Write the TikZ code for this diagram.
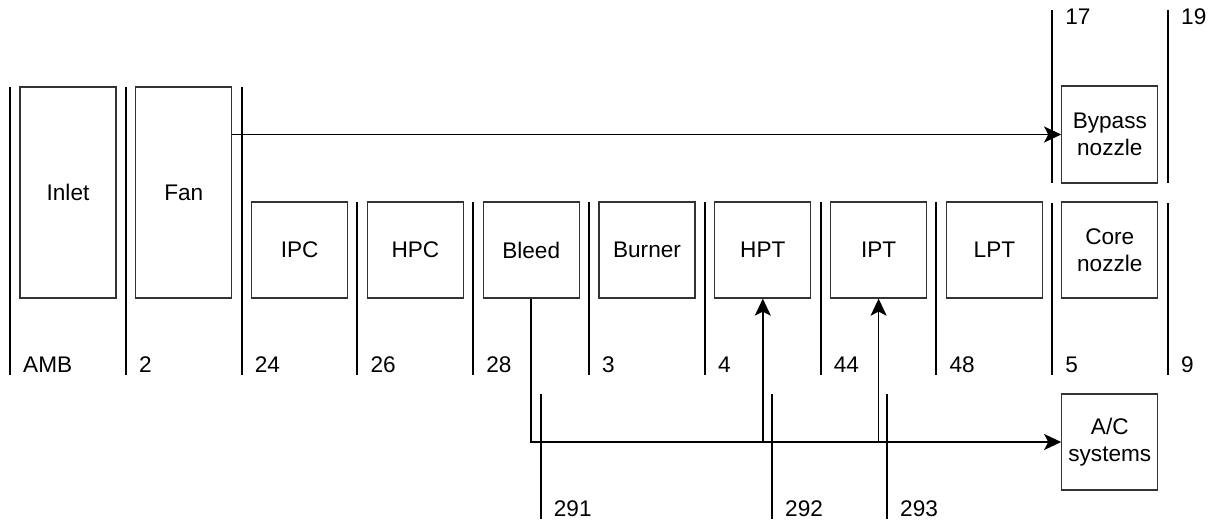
\documentclass[tikz,border=0pt]{standalone}
\usepackage{fontspec}
\setmainfont{Liberation Sans}
\usetikzlibrary{arrows.meta}
\begin{document}
\begin{tikzpicture}[x=1pt,y=-1pt,
  comp/.style={draw=black!80, line width=1.3pt, fill=white, minimum width=96pt,
    inner sep=0pt, align=center, font=\fontsize{22.6}{27}\selectfont},
  tall/.style={minimum height=211pt},
  sq/.style={minimum height=96pt},
  stn/.style={line width=2pt, black},
  lbl/.style={anchor=base west, inner sep=0pt, font=\fontsize{22.6}{27}\selectfont},
  flowline/.style={line width=1.6pt, black},
  flow/.style={flowline, -{Stealth[length=17pt,width=16pt,inset=4pt]}}]
\useasboundingbox[fill=white] (0,0) rectangle (1214,524);

% station lines
\foreach \x in {10,125.8,241.6}{\draw[stn] (\x,87) -- (\x,375);}
\foreach \x in {357.4,473.2,589,704.8,820.6,936.4}{\draw[stn] (\x,202) -- (\x,375);}
\foreach \x in {1052.2,1168}{\draw[stn] (\x,10) -- (\x,183); \draw[stn] (\x,203) -- (\x,375);}
\foreach \x in {540.7,772,887}{\draw[stn] (\x,394) -- (\x,519);}

% station labels
\node[lbl] (sAMB) at (23,372.5) {AMB};
\node[lbl] (s2)   at (138.8,372.5) {2};
\node[lbl] (s24)  at (254.6,372.5) {24};
\node[lbl] (s26)  at (370.4,372.5) {26};
\node[lbl] (s28)  at (486.2,372.5) {28};
\node[lbl] (s3)   at (602,372.5) {3};
\node[lbl] (s4)   at (717.8,372.5) {4};
\node[lbl] (s44)  at (833.6,372.5) {44};
\node[lbl] (s48)  at (949.4,372.5) {48};
\node[lbl] (s5)   at (1065.2,372.5) {5};
\node[lbl] (s9)   at (1181,372.5) {9};
\node[lbl] (s17)  at (1065.2,25) {17};
\node[lbl] (s19)  at (1181,25) {19};
\node[lbl] (s291) at (553.7,516.5) {291};
\node[lbl] (s292) at (785,516.5) {292};
\node[lbl] (s293) at (900,516.5) {293};

% components
\node[comp,tall] (inlet) at (68,192.5) {Inlet};
\node[comp,tall] (fan) at (183.8,192.5) {Fan};
\node[comp,sq] (ipc) at (299.6,250) {IPC};
\node[comp,sq] (hpc) at (415.4,250) {HPC};
\node[comp,sq] (bleed) at (531.2,250) {Bleed};
\node[comp,sq] (burner) at (647,250) {Burner};
\node[comp,sq] (hpt) at (762.8,250) {HPT};
\node[comp,sq] (ipt) at (878.6,250) {IPT};
\node[comp,sq] (lpt) at (994.4,250) {LPT};
\node[comp,sq] (core) at (1109.8,250) {Core\\nozzle};
\node[comp,minimum height=97pt] (bypass) at (1109.8,134.5) {Bypass\\nozzle};
\node[comp,sq] (ac) at (1109.8,442) {A/C\\systems};

% connectors
\draw[flow] (fan.east |- bypass.west) -- (bypass.west);
\coordinate (j1) at (bleed.south |- ac.west);
\coordinate (j2) at (hpt.south |- ac.west);
\coordinate (j3) at (ipt.south |- ac.west);
\draw[flow] (bleed.south) -- (j1) -- (j2) -- (hpt.south);
\draw[flow] (j2) -- (j3) -- (ipt.south);
\draw[flow] (j3) -- (ac.west);
\end{tikzpicture}
\end{document}
